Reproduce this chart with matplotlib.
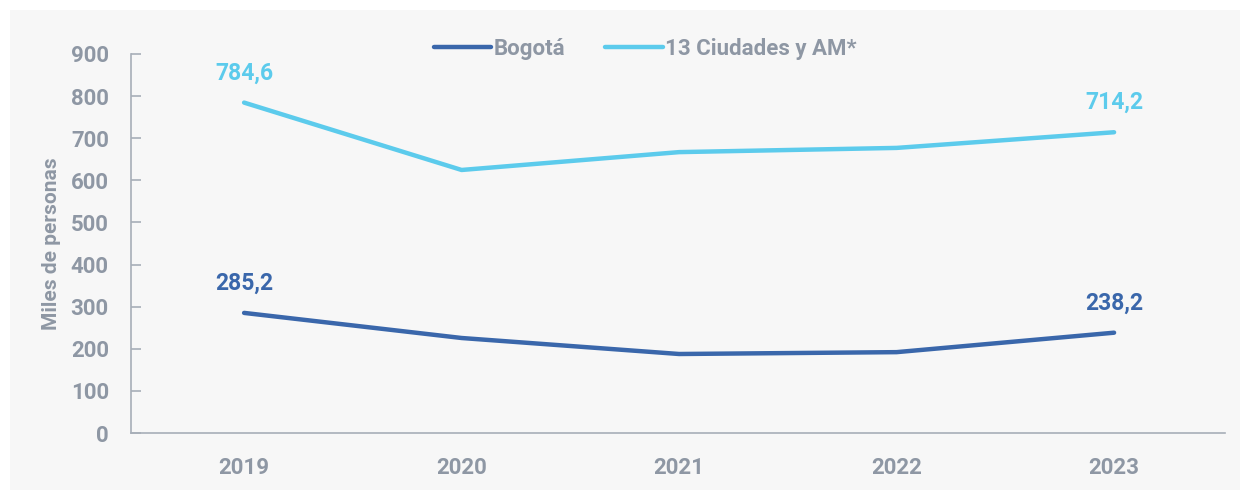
import matplotlib.pyplot as plt
from matplotlib.patches import Rectangle

years = ["2019", "2020", "2021", "2022", "2023"]
bogota = [285.2, 225.6, 187.6, 192.0, 238.2]
ciudades = [784.6, 624.6, 667.0, 677.0, 714.2]

BLUE = "#3a67ab"
CYAN = "#5ccbec"
GRAY = "#8e97a4"
BG = "#f7f7f7"

plt.rcParams['font.family'] = ['Roboto', 'DejaVu Sans']
plt.rcParams['font.weight'] = 'bold'

fig = plt.figure(figsize=(12.48, 5.0), dpi=100, facecolor="white")
fig.add_artist(Rectangle((10 / 1248, 10 / 500), 1230 / 1248, 480 / 500,
                         transform=fig.transFigure, facecolor=BG,
                         edgecolor="none", zorder=-10))
ax = fig.add_axes([131 / 1248, 1 - 433 / 500, (1225 - 131) / 1248, (433 - 54) / 500])
ax.set_facecolor(BG)

x = list(range(len(years)))
ax.plot(x, bogota, color=BLUE, lw=3.2, solid_capstyle="round", label="Bogotá")
ax.plot(x, ciudades, color=CYAN, lw=3.2, solid_capstyle="round", label="13 Ciudades y AM*")

for i in (0, len(years) - 1):
    ax.annotate(f"{bogota[i]:.1f}".replace(".", ","), (x[i], bogota[i]),
                xytext=(0, 13), textcoords="offset points", ha="center", va="bottom",
                color=BLUE, fontsize=16.5, fontweight="bold")
    ax.annotate(f"{ciudades[i]:.1f}".replace(".", ","), (x[i], ciudades[i]),
                xytext=(0, 13), textcoords="offset points", ha="center", va="bottom",
                color=CYAN, fontsize=16.5, fontweight="bold")

ax.set_xlim(-0.52, 4.51)
ax.set_ylim(0, 900)
ax.set_yticks(range(0, 901, 100))
ax.set_xticks(x)
ax.set_xticklabels(years)

for side in ("top", "right"):
    ax.spines[side].set_visible(False)
for side in ("left", "bottom"):
    ax.spines[side].set_color("#a7aeb8")
    ax.spines[side].set_linewidth(1.2)

ax.tick_params(axis="y", direction="in", length=7, color="#a7aeb8", width=1.2,
               labelsize=16, labelcolor=GRAY, pad=16)
ax.tick_params(axis="x", length=0, labelsize=16, labelcolor=GRAY, pad=17)

ax.set_ylabel("Miles de personas", fontsize=15, fontweight="bold", color=GRAY, labelpad=7)

leg = ax.legend(loc="upper center", bbox_to_anchor=(0.47, 1.095), ncol=2, frameon=False,
                fontsize=16, handlelength=2.6, handletextpad=0.1, columnspacing=1.8)
for t in leg.get_texts():
    t.set_color(GRAY)

fig.savefig("out.png", dpi=100, facecolor="white")
